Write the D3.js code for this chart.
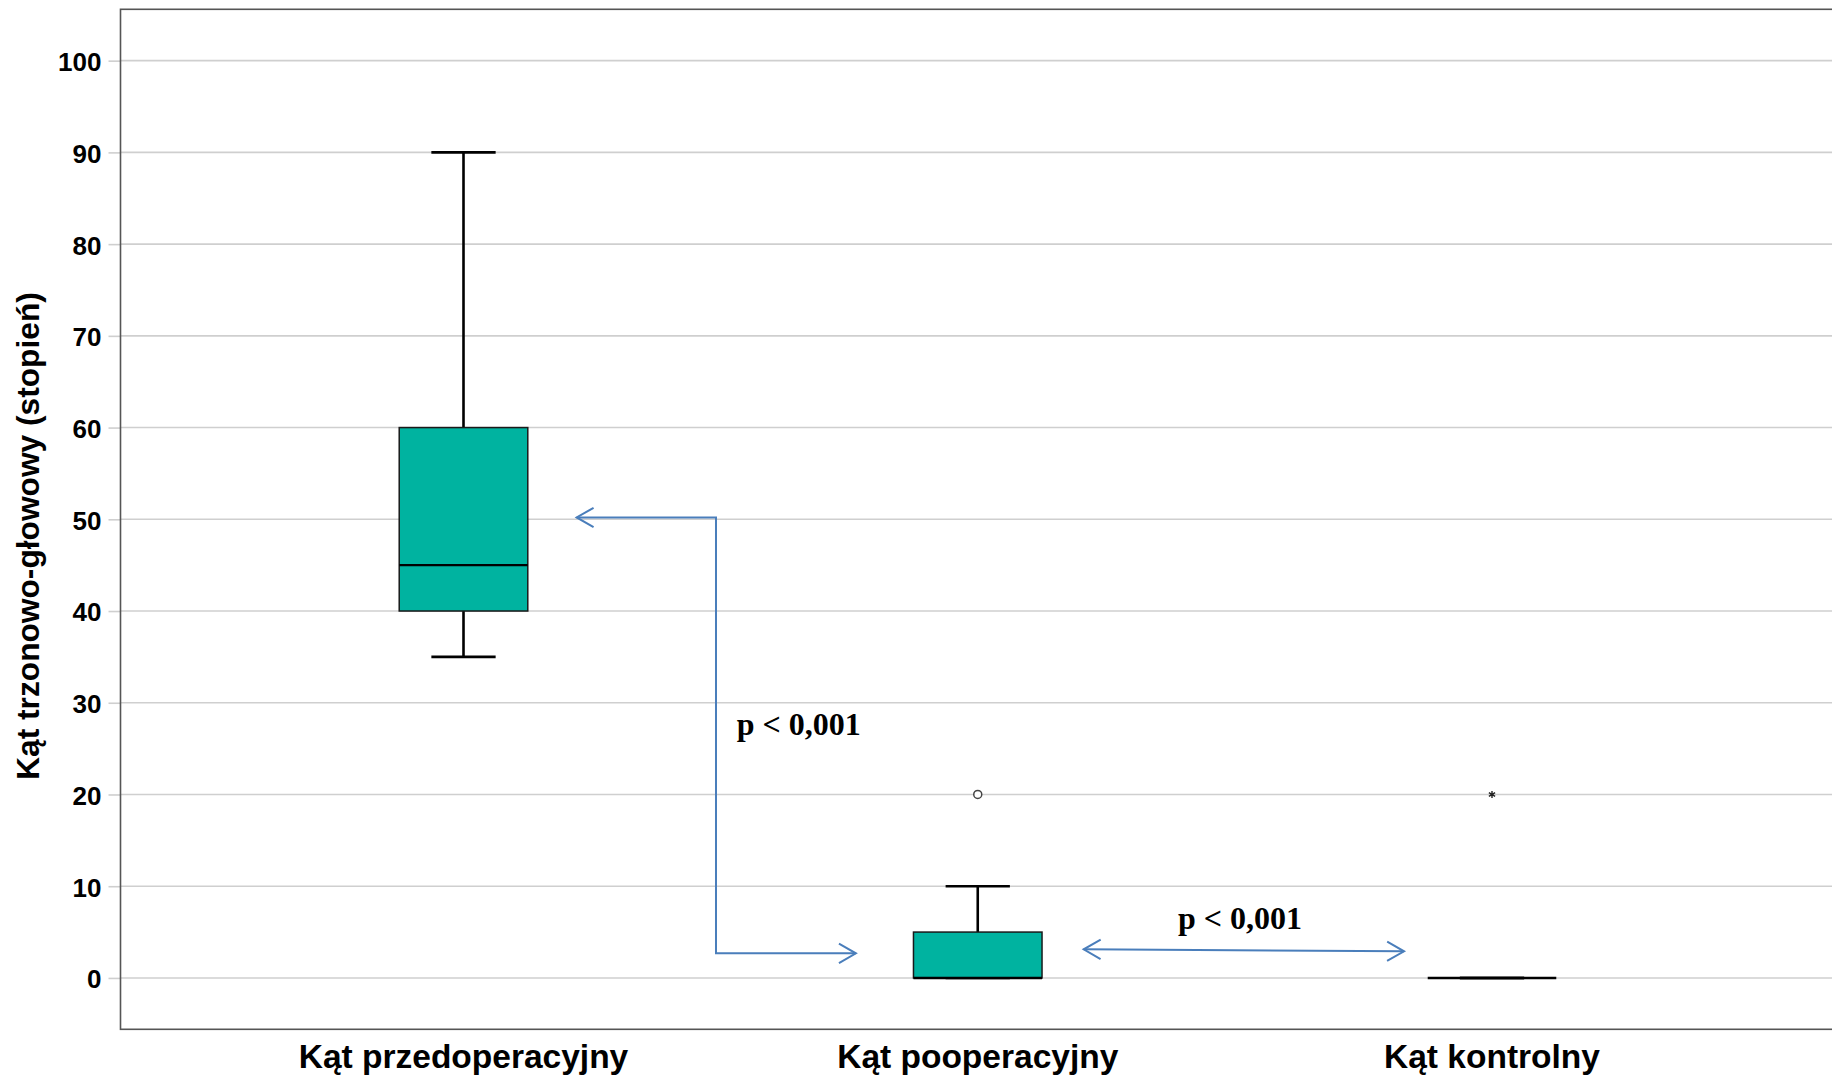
<!DOCTYPE html>
<html>
<head>
<meta charset="utf-8">
<script src="https://cdn.jsdelivr.net/npm/d3@7"></script>
<style>
  html, body { margin: 0; padding: 0; background: #fff; }
  svg { display: block; }
</style>
</head>
<body>
<svg id="chart" width="1832" height="1080"></svg>
<script>
// Box-plot summaries for the three angle groups (degrees)
const categories = ["Kąt przedoperacyjny", "Kąt pooperacyjny", "Kąt kontrolny"];
const whiskerLow  = [35, 0, 0];
const q1          = [40, 0, 0];
const medians     = [45, 0, 0];
const q3          = [60, 5, 0];
const whiskerHigh = [90, 10, 0];
// Outliers: "o" = mild outlier, "*" = extreme outlier
const outlierGroup = [1, 2];
const outlierValue = [20, 20];
const outlierKind  = ["o", "*"];

const yTicks = [0, 10, 20, 30, 40, 50, 60, 70, 80, 90, 100];
const yLabel = "Kąt trzonowo-głowowy (stopień)";

// Significance annotations (x in group-index units, y in degrees)
const pText = "p < 0,001";
const elbowArrow = [[0.22, 50.2], [0.491, 50.2], [0.491, 2.68], [0.763, 2.68]];
const pairArrow  = [[1.206, 3.12], [1.829, 2.9]];
const pLabels    = [[0.652, 26.5], [1.51, 5.33]];

const svg = d3.select("#chart");
const W = 1832, H = 1080;
const plot = { left: 120.5, top: 9.3, right: 1835, bottom: 1029.3 };

const y = d3.scaleLinear().domain([-5.6, 105.6]).range([plot.bottom, plot.top]);
const x = d3.scalePoint().domain(categories).range([plot.left, plot.right]).padding(0.667);
const xi = d3.scaleLinear().domain([0, 2]).range([x(categories[0]), x(categories[2])]);
const boxW = x.step() * 0.25;
const capW = boxW / 2;

const gridColor = "#cfcfcf";

// Gridlines and tick marks
const yAxis = d3.axisLeft(y).tickValues(yTicks).tickSize(12).tickPadding(7)
  .tickFormat(d3.format("d"));
const gAxis = svg.append("g").attr("transform", `translate(${plot.left},0)`).call(yAxis);
gAxis.select(".domain").remove();
gAxis.selectAll(".tick line").attr("stroke", gridColor).attr("stroke-width", 1.6);
gAxis.selectAll(".tick text")
  .attr("font-family", "'Liberation Sans', Arial, sans-serif")
  .attr("font-weight", "bold").attr("font-size", 26).attr("fill", "#000")
  .attr("dy", "0.38em");

svg.append("g").selectAll("line").data(yTicks).join("line")
  .attr("x1", plot.left).attr("x2", W)
  .attr("y1", d => y(d)).attr("y2", d => y(d))
  .attr("stroke", gridColor).attr("stroke-width", 1.6);

// Plot frame
svg.append("rect")
  .attr("x", plot.left).attr("y", plot.top)
  .attr("width", plot.right - plot.left).attr("height", plot.bottom - plot.top)
  .attr("fill", "none").attr("stroke", "#555").attr("stroke-width", 1.6);

// Boxes
const groups = categories.map((c, i) => ({
  c, lo: whiskerLow[i], q1: q1[i], med: medians[i], q3: q3[i], hi: whiskerHigh[i]
}));
const gBox = svg.append("g").selectAll("g").data(groups).join("g");

gBox.append("line")
  .attr("x1", d => x(d.c)).attr("x2", d => x(d.c))
  .attr("y1", d => y(d.hi)).attr("y2", d => y(d.q3))
  .attr("stroke", "#000").attr("stroke-width", 2.6);
gBox.append("line")
  .attr("x1", d => x(d.c)).attr("x2", d => x(d.c))
  .attr("y1", d => y(d.q1)).attr("y2", d => y(d.lo))
  .attr("stroke", "#000").attr("stroke-width", 2.6);
gBox.append("line")
  .attr("x1", d => x(d.c) - capW / 2).attr("x2", d => x(d.c) + capW / 2)
  .attr("y1", d => y(d.hi)).attr("y2", d => y(d.hi))
  .attr("stroke", "#000").attr("stroke-width", 2.6);
gBox.append("line")
  .attr("x1", d => x(d.c) - capW / 2).attr("x2", d => x(d.c) + capW / 2)
  .attr("y1", d => y(d.lo)).attr("y2", d => y(d.lo))
  .attr("stroke", "#000").attr("stroke-width", 2.6);
gBox.append("rect")
  .attr("x", d => x(d.c) - boxW / 2).attr("width", boxW)
  .attr("y", d => y(d.q3)).attr("height", d => y(d.q1) - y(d.q3))
  .attr("fill", "#00b3a0").attr("stroke", "#1a1a1a").attr("stroke-width", 1.5);
gBox.append("line")
  .attr("x1", d => x(d.c) - boxW / 2).attr("x2", d => x(d.c) + boxW / 2)
  .attr("y1", d => y(d.med)).attr("y2", d => y(d.med))
  .attr("stroke", "#000").attr("stroke-width", 2.4);

// Outliers
outlierGroup.forEach((gi, k) => {
  const cx = x(categories[gi]), cy = y(outlierValue[k]);
  if (outlierKind[k] === "o") {
    svg.append("circle").attr("cx", cx).attr("cy", cy).attr("r", 4)
      .attr("fill", "#fff").attr("stroke", "#444").attr("stroke-width", 1.5);
  } else {
    svg.append("path").attr("transform", `translate(${cx},${cy})`)
      .attr("d", d3.symbol(d3.symbolAsterisk, 36)())
      .attr("fill", "none").attr("stroke", "#222").attr("stroke-width", 1.4);
  }
});

// Significance arrows
const arrowColor = "#4a7ebb";
const line = d3.line().x(d => xi(d[0])).y(d => y(d[1]));
function head(tip, from) {
  const tx = xi(tip[0]), ty = y(tip[1]);
  const fx = xi(from[0]), fy = y(from[1]);
  const a = Math.atan2(ty - fy, tx - fx);
  const L = 19.5, spread = 0.52;
  return `M${tx - L * Math.cos(a - spread)},${ty - L * Math.sin(a - spread)}L${tx},${ty}L${tx - L * Math.cos(a + spread)},${ty - L * Math.sin(a + spread)}`;
}
const gArr = svg.append("g").attr("fill", "none").attr("stroke", arrowColor).attr("stroke-width", 2);
gArr.append("path").attr("d", line(elbowArrow));
gArr.append("path").attr("d", head(elbowArrow[0], elbowArrow[1]));
gArr.append("path").attr("d", head(elbowArrow[3], elbowArrow[2]));
gArr.append("path").attr("d", line(pairArrow));
gArr.append("path").attr("d", head(pairArrow[0], pairArrow[1]));
gArr.append("path").attr("d", head(pairArrow[1], pairArrow[0]));

svg.append("g").selectAll("text").data(pLabels).join("text")
  .attr("x", d => xi(d[0])).attr("y", d => y(d[1]))
  .attr("text-anchor", "middle")
  .attr("font-family", "'Liberation Serif', 'Times New Roman', serif")
  .attr("font-weight", "bold").attr("font-size", 32).attr("fill", "#000")
  .text(pText);

// Category labels
svg.append("g").selectAll("text").data(categories).join("text")
  .attr("x", d => x(d)).attr("y", 1067.5)
  .attr("text-anchor", "middle")
  .attr("font-family", "'Liberation Sans', Arial, sans-serif")
  .attr("font-weight", "bold").attr("font-size", 33.5).attr("fill", "#000")
  .text(d => d);

// Y-axis title
svg.append("text")
  .attr("transform", `translate(39,536) rotate(-90)`)
  .attr("text-anchor", "middle")
  .attr("font-family", "'Liberation Sans', Arial, sans-serif")
  .attr("font-weight", "bold").attr("font-size", 31.7).attr("fill", "#000")
  .text(yLabel);
</script>
</body>
</html>
